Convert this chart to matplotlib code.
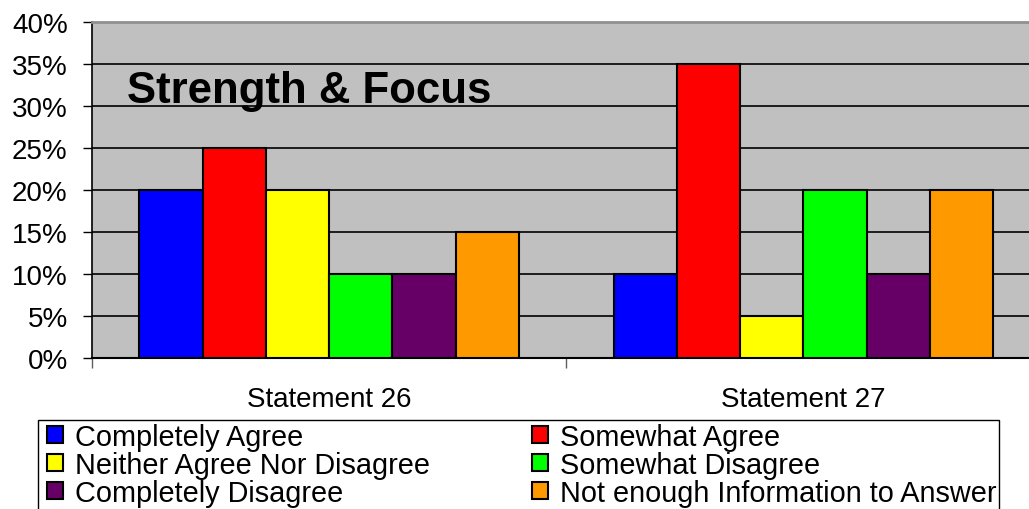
import matplotlib.pyplot as plt
from matplotlib.patches import Rectangle
import numpy as np

plt.rcParams['font.family'] = ['Liberation Sans', 'DejaVu Sans']

statements = ["Statement 26", "Statement 27"]
responses = ["Completely Agree", "Somewhat Agree", "Neither Agree Nor Disagree",
             "Somewhat Disagree", "Completely Disagree", "Not enough Information to Answer"]
values = {
    "Completely Agree": [20, 10],
    "Somewhat Agree": [25, 35],
    "Neither Agree Nor Disagree": [20, 5],
    "Somewhat Disagree": [10, 20],
    "Completely Disagree": [10, 10],
    "Not enough Information to Answer": [15, 20],
}
colors = ["#0000FF", "#FF0000", "#FFFF00", "#00FF00", "#660066", "#FF9900"]
y_ticks = [0, 5, 10, 15, 20, 25, 30, 35, 40]

fig = plt.figure(figsize=(10.29, 5.10), dpi=100)
ax = fig.add_axes([92 / 1029, 1 - 359 / 510, 1 - 92 / 1029, (359 - 23) / 510])
ax.set_facecolor("#C0C0C0")

x = np.arange(len(statements))
w = 0.8 / len(responses)
handles = []
for i, (name, col) in enumerate(zip(responses, colors)):
    b = ax.bar(x - 0.4 + w * (i + 0.5), values[name], width=w, color=col,
               edgecolor="black", linewidth=1.5, zorder=3, label=name)
    handles.append(b)

ax.set_ylim(0, 40)
ax.set_xlim(-0.5, 1.476)
ax.set_yticks(y_ticks)
ax.set_yticklabels([f"{v}%" for v in y_ticks], fontsize=20)
ax.yaxis.grid(True, color="black", linewidth=1.2, zorder=1)
ax.tick_params(axis="y", length=6.5, width=1, pad=11)

ax.set_xticks(x)
ax.set_xticklabels(statements, fontsize=20)
ax.set_xticks([-0.5, 0.5], minor=True)
ax.tick_params(axis="x", which="major", length=0, pad=20)
ax.tick_params(axis="x", which="minor", length=7, width=1, color="#606060")

ax.spines["right"].set_visible(False)
ax.spines["top"].set_color("#909090")
ax.spines["top"].set_linewidth(2)
ax.spines["left"].set_linewidth(1.2)
ax.spines["bottom"].set_linewidth(1.5)

fig.text(127 / 1029, 1 - 91 / 510, "Strength & Focus", fontsize=31.5,
         fontweight="bold", va="center", ha="left")

# legend box, then one legend per column (row-wise order like the original)
fig.add_artist(Rectangle((38 / 1029, -0.05), (999 - 38) / 1029, 1 - 421 / 510 + 0.05,
                         transform=fig.transFigure, facecolor="white",
                         edgecolor="black", linewidth=1, zorder=1))
leg_kw = dict(loc="upper left", fontsize=20.8, frameon=False,
              handlelength=0.55, handleheight=0.55, handletextpad=0.42,
              labelspacing=0.0, borderpad=0, borderaxespad=0)
cols = [[0, 2, 4], [1, 3, 5]]
for xs, idx in zip([47, 532], cols):
    leg = fig.legend(handles=[handles[i] for i in idx],
                     labels=[responses[i] for i in idx],
                     bbox_to_anchor=(xs / 1029, 1 - 424 / 510), **leg_kw)
    leg.set_zorder(2)
    for p in leg.get_patches():
        p.set_linewidth(1.5)

fig.savefig("out.png", dpi=100)
